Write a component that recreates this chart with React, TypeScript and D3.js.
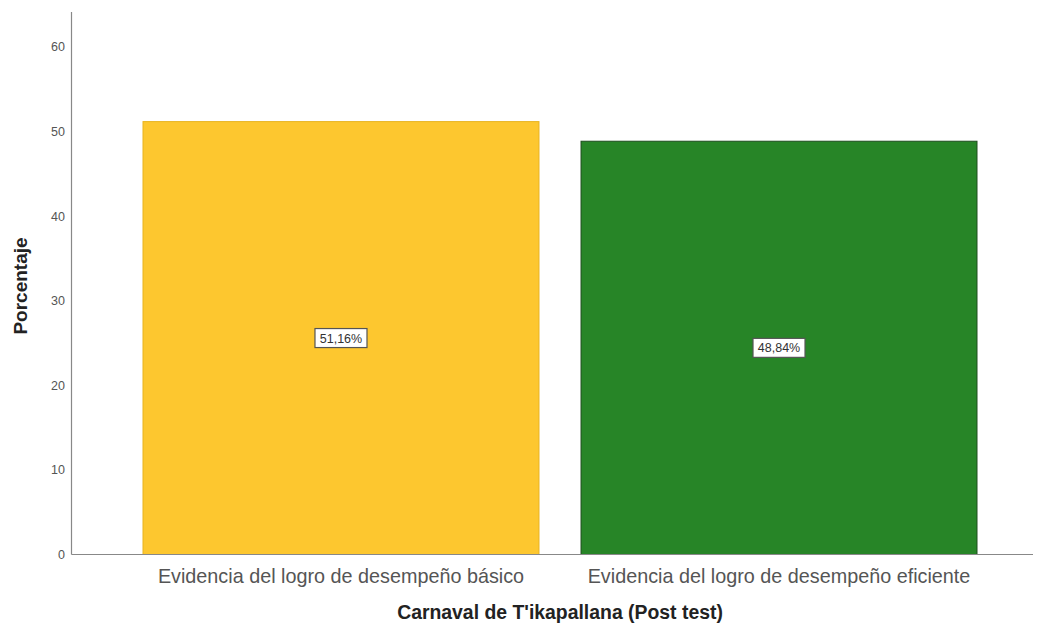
import React from "react";
import * as d3 from "d3";

const categories = [
  "Evidencia del logro de desempeño básico",
  "Evidencia del logro de desempeño eficiente",
];
const values = [51.16, 48.84];
const valueLabels = ["51,16%", "48,84%"];
const colors = ["#FDC72F", "#278527"];
const strokes = ["#E8B420", "#1E4D1E"];
const yTicks = [0, 10, 20, 30, 40, 50, 60];

const W = 1037;
const H = 626;
const axisX = 71.5;
const baseY = 554.5;
const axisTop = 12;
const axisRight = 1033;

export default function App() {
  const y = d3.scaleLinear().domain([0, 60]).range([baseY, 46.8]);
  const x = d3
    .scaleBand<string>()
    .domain(categories)
    .range([143, 977])
    .paddingInner(0.096)
    .paddingOuter(0);

  return (
    <svg
      width={W}
      height={H}
      style={{ position: "absolute", left: 0, top: 0, background: "#fff" }}
      fontFamily="Arial, 'Liberation Sans', sans-serif"
    >
      {categories.map((c, i) => {
        const bx = x(c)!;
        const bw = x.bandwidth();
        const top = y(values[i]);
        const cx = bx + bw / 2;
        const cy = (top + baseY) / 2;
        return (
          <g key={c}>
            <rect
              x={bx}
              y={top}
              width={bw}
              height={baseY - top}
              fill={colors[i]}
              stroke={strokes[i]}
              strokeWidth={1}
            />
            <rect
              x={cx - 26}
              y={cy - 9.5}
              width={52}
              height={19}
              fill="#fff"
              stroke="#555"
              strokeWidth={1.2}
            />
            <text
              x={cx}
              y={cy + 4.5}
              textAnchor="middle"
              fontSize={12.5}
              fill="#333"
            >
              {valueLabels[i]}
            </text>
            <text
              x={cx}
              y={583}
              textAnchor="middle"
              fontSize={19.8}
              fill="#555"
            >
              {c}
            </text>
          </g>
        );
      })}
      <line x1={axisX} y1={axisTop} x2={axisX} y2={baseY} stroke="#888" strokeWidth={1.2} />
      <line x1={axisX} y1={baseY} x2={axisRight} y2={baseY} stroke="#888" strokeWidth={1.2} />
      {yTicks.map((t) => (
        <text
          key={t}
          x={65}
          y={y(t) + 4.5}
          textAnchor="end"
          fontSize={12.5}
          fill="#555"
        >
          {t}
        </text>
      ))}
      <text
        x={0}
        y={0}
        transform={`translate(27,${286}) rotate(-90)`}
        textAnchor="middle"
        fontSize={19}
        fontWeight="bold"
        fill="#222"
      >
        Porcentaje
      </text>
      <text
        x={560}
        y={619}
        textAnchor="middle"
        fontSize={19.4}
        fontWeight="bold"
        fill="#222"
      >
        Carnaval de T'ikapallana (Post test)
      </text>
    </svg>
  );
}
